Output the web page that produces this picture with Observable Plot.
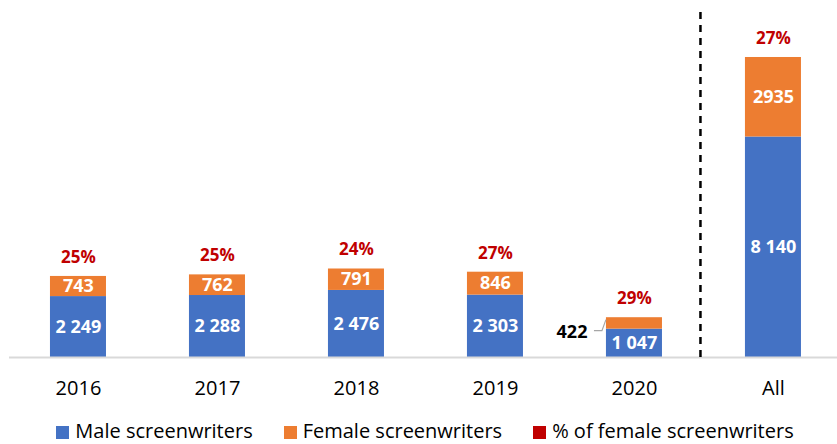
<!DOCTYPE html>
<html><head><meta charset="utf-8">
<script src="https://cdn.jsdelivr.net/npm/d3@7"></script>
<script src="https://cdn.jsdelivr.net/npm/@observablehq/plot@0.6"></script>
<style>
html,body{margin:0;padding:0;background:#fff;overflow:hidden;}
body{font-family:"Open Sans",sans-serif;width:837px;height:444px;}
.legend{display:flex;justify-content:center;gap:31px;font-size:20px;line-height:20px;margin-top:16px;padding-left:13px;color:#000;white-space:nowrap;}
.legend .sw{display:inline-block;width:13px;height:13px;margin-right:6px;vertical-align:-1px;}
</style></head><body><div id="chart"></div><div class="legend" id="legend"></div>
<script>
const categories = ["2016","2017","2018","2019","2020","All"];
const male = [2249, 2288, 2476, 2303, 1047, 8140];
const female = [743, 762, 791, 846, 422, 2935];
const femalePct = [25, 25, 24, 27, 29, 27];
const femaleLabelOutside = [false, false, false, false, true, false];
const seriesKeys = ["Male", "Female"];
const legendNames = ["Male screenwriters", "Female screenwriters", "% of female screenwriters"];
const legendColors = ["#4472C4", "#ED7D31", "#C00000"];

const rows = categories.flatMap((c, i) => [
  {cat: c, series: "Male", value: male[i], mid: male[i] / 2, label: d3.format(",")(male[i]).replace(/,/g, " "), outside: false},
  {cat: c, series: "Female", value: female[i], mid: male[i] + female[i] / 2, label: String(female[i]), outside: femaleLabelOutside[i]}
]);
const totals = categories.map((c, i) => ({cat: c, total: male[i] + female[i], pct: femalePct[i] + "%"}));

function extras(index, scales) {
  const x = scales.x, y = scales.y;
  const bw = x.bandwidth ? x.bandwidth() : 56;
  const g = d3.create("svg:g");
  const a = categories[categories.length - 2], b = categories[categories.length - 1];
  const xs = (x(a) + bw + x(b)) / 2 - 3;
  g.append("line")
    .attr("x1", xs).attr("x2", xs)
    .attr("y1", y(y.domain()[1])).attr("y2", y(0))
    .attr("stroke", "#000").attr("stroke-width", 2.5).attr("stroke-dasharray", "7,6");
  categories.forEach((c, i) => {
    if (!femaleLabelOutside[i]) return;
    const xl = x(c), yb = y(male[i]);
    g.append("path")
      .attr("d", `M${xl - 12},${yb + 2}L${xl - 4},${yb + 2}L${xl},${yb - 9}`)
      .attr("fill", "none").attr("stroke", "#A6A6A6").attr("stroke-width", 1.2);
  });
  return g.node();
}

const chart = Plot.plot({
  width: 837,
  height: 405,
  marginTop: 12,
  marginBottom: 48,
  marginLeft: 9,
  marginRight: 0,
  style: {fontFamily: "'Open Sans', sans-serif", color: "#000", background: "#fff"},
  x: {domain: categories, paddingInner: 0.597, paddingOuter: 0.277, align: 0.532, round: false, label: null},
  y: {domain: [0, 12736], axis: null},
  color: {domain: seriesKeys, range: legendColors.slice(0, 2)},
  marks: [
    Plot.barY(rows, {x: "cat", y: "value", fill: "series", order: seriesKeys}),
    Plot.ruleY([0], {stroke: "#D9D9D9", strokeWidth: 2}),
    Plot.text(rows.filter(d => !d.outside), {x: "cat", y: "mid", text: "label", fill: "#fff", fontWeight: "bold", fontSize: 18}),
    Plot.text(rows.filter(d => d.outside), {x: "cat", y: d => d.mid - d.value / 2, text: "label", fill: "#000", fontWeight: "bold", fontSize: 18, textAnchor: "end", dx: -47, dy: 3}),
    Plot.text(totals, {x: "cat", y: "total", text: "pct", fill: "#C00000", fontWeight: "bold", fontSize: 17, dy: -19}),
    Plot.axisX({tickSize: 0, tickPadding: 23, fontSize: 20, label: null}),
    extras
  ]
});
document.getElementById("chart").appendChild(chart);

const legend = document.getElementById("legend");
legendNames.forEach((n, i) => {
  const item = document.createElement("span");
  item.innerHTML = `<span class="sw" style="background:${legendColors[i]}"></span>${n}`;
  legend.appendChild(item);
});
</script></body></html>
